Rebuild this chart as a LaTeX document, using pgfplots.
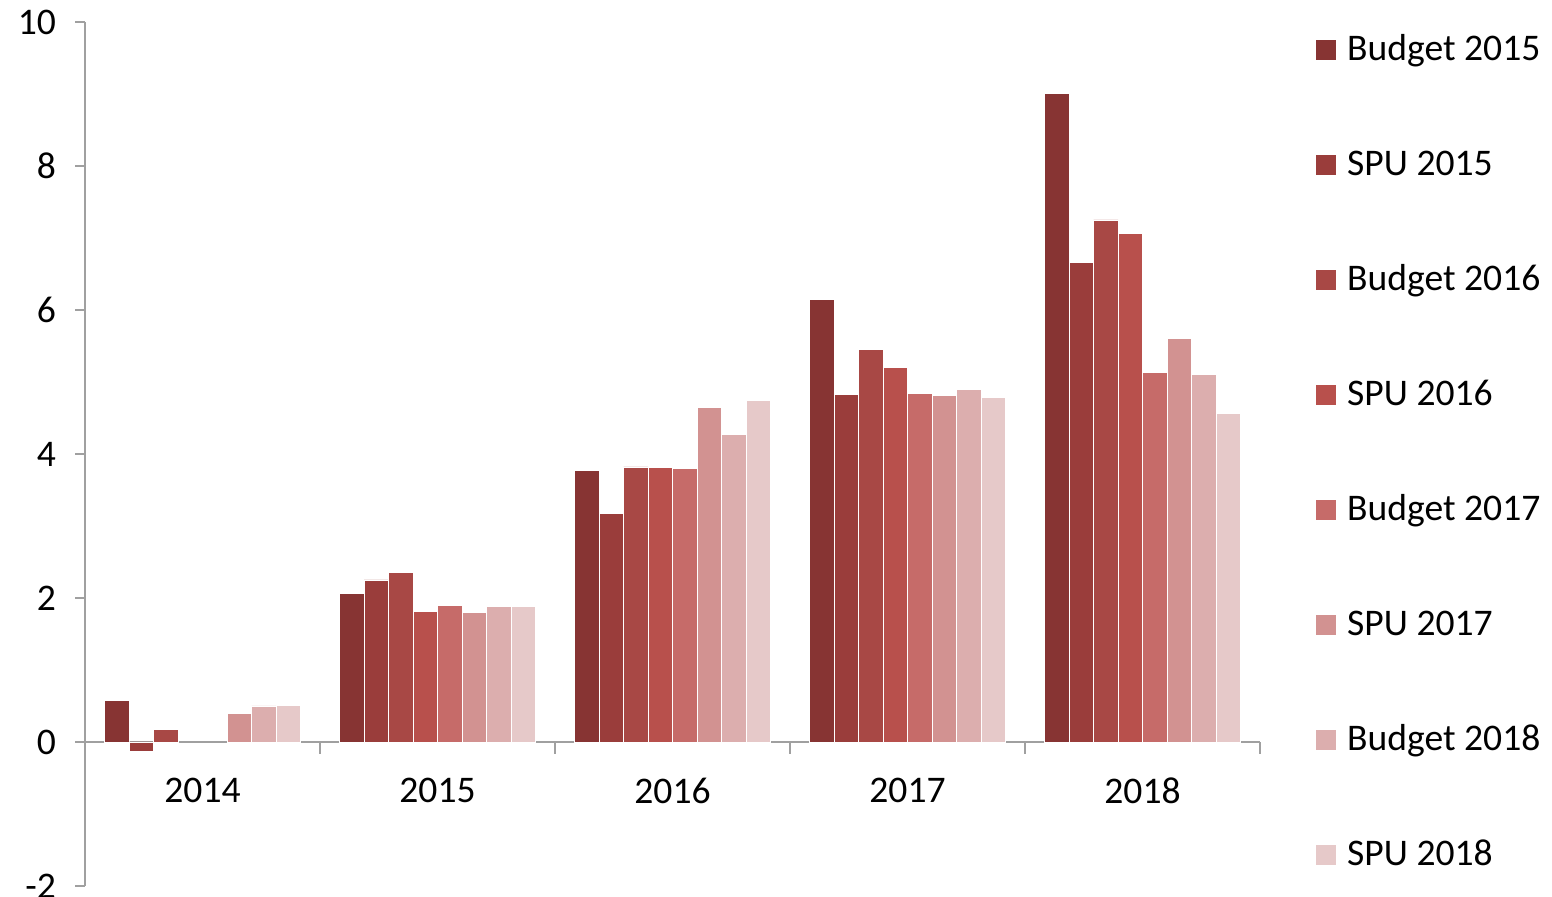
\documentclass[border=0pt]{standalone}
\usepackage{pgfplots}
\pgfplotsset{compat=1.18}
\usepackage{fontspec}
\setmainfont{Carlito}
\definecolor{c1}{HTML}{873433}
\definecolor{c2}{HTML}{9A3D3B}
\definecolor{c3}{HTML}{A84845}
\definecolor{c4}{HTML}{B8504C}
\definecolor{c5}{HTML}{C66B69}
\definecolor{c6}{HTML}{D29291}
\definecolor{c7}{HTML}{DCAEAE}
\definecolor{c8}{HTML}{E6C9C9}
\definecolor{axgray}{HTML}{A0A0A0}
\begin{document}
\begin{tikzpicture}
\path[use as bounding box] (0,0) rectangle (776pt,448.5pt);
\begin{axis}[
  at={(42.5pt,5.5pt)}, anchor=south west,
  scale only axis, width=587.5pt, height=432pt,
  xmin=-0.5, xmax=4.5, ymin=-2, ymax=10,
  axis y line=left, axis x line=middle,
  axis line style={axgray, line width=1pt, -},
  ybar=0pt, bar width=12.25pt,
  xtick={0,1,2,3,4},
  xticklabels={2014,2015,2016,2017,2018},
  minor xtick={-0.5,0.5,1.5,2.5,3.5,4.5},
  major x tick style={draw=none},
  minor x tick style={axgray, line width=1pt},
  minor tick length=6pt,
  ytick={-2,0,2,4,6,8,10},
  major tick length=5pt,
  tick align=outside,
  y tick style={axgray, line width=1pt},
  font=\fontsize{18.8}{22}\selectfont,
  /pgf/number format/assume math mode=true,
  xticklabel style={yshift=-9.5pt},
  yticklabel style={xshift=-6pt},
  clip=false,
  legend cell align=left,
  legend style={draw=none, at={(axis description cs:1.0468,0.988)}, anchor=north west,
    inner sep=0pt, row sep=38.5pt,
    nodes={text height=13pt, text depth=4pt, inner sep=1pt}},
  legend image code/.code={\fill[#1] (0pt,-4.25pt) rectangle (10.5pt,6.25pt); \path (14.5pt,0pt);},
  every axis plot/.append style={draw=white, line width=0.4pt},
]
\addplot[fill=c1] coordinates {(0,0.58) (1,2.06) (2,3.77) (3,6.15) (4,9.01)};
\addplot[fill=c2] coordinates {(0,-0.13) (1,2.25) (2,3.17) (3,4.83) (4,6.66)};
\addplot[fill=c3] coordinates {(0,0.17) (1,2.36) (2,3.82) (3,5.45) (4,7.25)};
\addplot[fill=c4] coordinates {(1,1.81) (2,3.81) (3,5.20) (4,7.06)};
\addplot[fill=c5] coordinates {(1,1.90) (2,3.80) (3,4.84) (4,5.13)};
\addplot[fill=c6] coordinates {(0,0.40) (1,1.80) (2,4.65) (3,4.81) (4,5.60)};
\addplot[fill=c7] coordinates {(0,0.50) (1,1.88) (2,4.27) (3,4.90) (4,5.11)};
\addplot[fill=c8] coordinates {(0,0.51) (1,1.88) (2,4.74) (3,4.79) (4,4.56)};
\legend{Budget 2015,SPU 2015,Budget 2016,SPU 2016,Budget 2017,SPU 2017,Budget 2018,SPU 2018}
\end{axis}
\end{tikzpicture}
\end{document}
